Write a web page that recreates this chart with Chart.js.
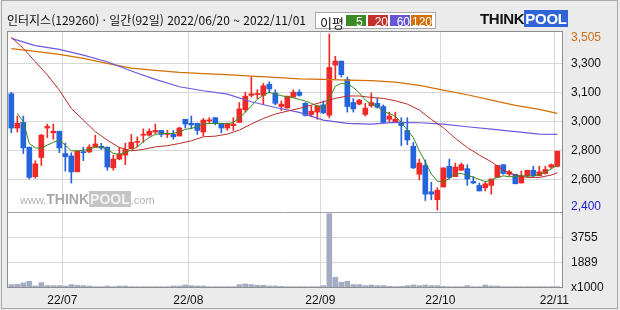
<!DOCTYPE html>
<html lang="ko">
<head>
<meta charset="utf-8">
<title>인터지스 일간 차트</title>
<script src="https://cdn.jsdelivr.net/npm/chart.js@4.4.0/dist/chart.umd.min.js"></script>
<style>
  html, body { margin: 0; padding: 0; background: #ebebeb; }
  #box { position: relative; width: 620px; height: 310px; overflow: hidden; background: #ebebeb; }
  #box canvas { position: absolute; left: 0; top: 0; }
  #frame { position: absolute; left: 1px; top: 0; width: 617px; height: 309px; box-sizing: border-box; border: 1px solid #a8a8a8; pointer-events: none; }
  #title { position: absolute; left: 7px; top: 12px; font: 12px "Noto Sans CJK KR", sans-serif; line-height: 16px; color: #111; white-space: nowrap; }
  #legend { position: absolute; left: 315px; top: 12px; width: 121px; height: 17px; box-sizing: border-box; border: 1px solid #a8a8a8; background: #fff; }
  #legend span { position: absolute; top: 2px; height: 11px; line-height: 11px; font: 12px "Liberation Sans", sans-serif; color: #fff; text-align: right; }
  #legend .lbl { left: 4px; top: 0; height: 15px; line-height: 15px; color: #111; font: 13px "Noto Sans CJK KR", sans-serif; }
  #logo { position: absolute; left: 480px; top: 11px; font: bold 15px "Liberation Sans", sans-serif; line-height: 16px; letter-spacing: -0.3px; white-space: nowrap; }
  #logo .think { color: #111; }
  #logo .pool { color: #fff; background: #2f63d6; padding: 0 1px; }
  #mark { position: absolute; left: 20px; top: 192px; white-space: nowrap; font-family: "Liberation Sans", sans-serif; line-height: 14px; }
  #mark .s { font-size: 11px; color: #b2b2b2; }
  #mark .b { font-size: 14px; font-weight: bold; color: #a9a9a9; }
  #mark .o { font-size: 14px; font-weight: bold; color: #f2f2f2; background: #c4c4c4; padding: 0 1px; }
</style>
</head>
<body>
<div id="box">
  <canvas id="chart" width="620" height="310"></canvas>
  <div id="title">인터지스(129260) · 일간(92일) 2022/06/20 ~ 2022/11/01</div>
  <div id="legend">
    <span class="lbl">이평</span>
    <span style="left:30px;width:20px;background:#3c8a26;">5&nbsp;</span>
    <span style="left:52px;width:20px;background:#c4302a;">20</span>
    <span style="left:74px;width:20px;background:#6657d8;">60</span>
    <span style="left:95px;width:21px;background:#d4700a;">120</span>
  </div>
  <div id="logo"><span class="think">THINK</span><span class="pool">POOL</span></div>
  <div id="mark"><span class="s">www.</span><span class="b">THINK</span><span class="o">POOL</span><span class="s">.com</span></div>
  <div id="frame"></div>
</div>
<script>
// daily candles, 2022/06/20 ~ 2022/11/01 (92 trading days, index 0..91)
const open = [3130,2915,2950,2795,2610,2730,2915,2885,2895,2755, 2740,2640,2765,2765,2795,2800,2795,2665,2720,2745,
  2785,2825,2870,2870,2890,2900,2875,2875,2865,2970, 2945,2945,2890,2960,2980,2945,2915,2930,2950,3030,
  3120,3125,3120,3190,3135,3050,3040,3110,3140,3070, 3000,3015,3060,2995,3310,3335,3220,3075,3065,3000,
  3055,3070,3050,2970,2950,2950,2900,2800,2625,2680, 2515,2465,2545,2675,2610,2650,2660,2580,2555,2540,
  2555,2605,2685,2625,2625,2570,2615,2650,2615,2630, 2670,2675];
const high = [3140,2990,2990,2795,2710,2875,2940,2940,2895,2820, 2760,2770,2795,2810,2870,2820,2795,2745,2795,2820,
  2875,2860,2910,2910,2940,2900,2900,2900,2920,2970, 2990,2945,2975,2980,2980,2945,2945,2980,3075,3140,
  3235,3155,3195,3205,3155,3085,3115,3155,3155,3075, 3055,3055,3085,3505,3365,3335,3235,3100,3095,3070,
  3135,3100,3060,3015,3015,2980,2980,2825,2720,2715, 2575,2540,2665,2720,2695,2695,2685,2610,2570,2580,
  2595,2680,2685,2650,2625,2645,2650,2675,2675,2675, 2690,2770];
const low = [2885,2890,2755,2595,2600,2680,2855,2845,2760,2645, 2570,2640,2710,2760,2795,2780,2650,2650,2715,2685,
  2785,2795,2825,2865,2880,2860,2855,2845,2865,2915, 2910,2875,2865,2945,2935,2885,2900,2900,2950,3015,
  3110,3100,3065,3135,3060,3025,3040,3105,3115,2990, 2985,2970,3005,2980,3225,3235,3015,3015,3060,2990,
  3045,3040,2950,2955,2950,2805,2810,2660,2590,2460, 2465,2400,2545,2595,2610,2650,2555,2565,2520,2520,
  2500,2605,2625,2615,2565,2570,2610,2610,2615,2625, 2660,2670];
const close = [2915,2945,2790,2605,2690,2870,2925,2895,2790,2735, 2640,2770,2760,2795,2815,2790,2670,2720,2750,2780,
  2825,2830,2875,2895,2900,2875,2880,2860,2915,2940, 2935,2900,2965,2965,2945,2915,2945,2940,3035,3115,
  3130,3130,3180,3160,3070,3065,3115,3140,3120,2995, 3020,3055,3010,3295,3335,3250,3050,3035,3090,3040,
  3075,3045,2950,2990,2970,2930,2840,2665,2695,2500, 2500,2525,2665,2605,2670,2685,2595,2570,2520,2565,
  2595,2680,2630,2640,2565,2615,2650,2615,2640,2655, 2685,2770];
// volume, thousand shares
const volume = [250,275,375,500,150,400,175,175,175,150, 250,200,175,150,100,100,150,100,150,150,
  100,100,100,100,100,100,100,150,150,225, 175,150,150,100,100,100,100,100,250,300,
  250,200,200,150,150,125,100,100,100,100, 100,100,170,5505,800,425,500,250,250,175,
  225,175,175,125,100,125,175,225,175,225, 175,175,125,100,100,100,175,100,100,225,
  150,150,100,100,100,100,100,100,100,100, 100,100];

// moving averages
const ma5Idx = [1,2,3,4,5,6,7,8,9,10,11,12,13,14,15,16,17,18,19,20,21,22,23,24,25,26,27,28,29,30,
  31,32,33,34,35,36,37,38,39,40,41,42,43,44,45,46,47,48,49,50,51,52,53,54,55,56,57,58,59,60,
  61,62,63,64,65,66,67,68,69,70,71,72,73,74,75,76,77,78,79,80,81,82,83,84,85,86,87,88,89,90,91];
const ma5 = [3007,2954,2818,2791,2787,2808,2825,2839,2808,2772, 2772,2775,2781,2795,2797,2781,2756,2751,2762,2777,
  2797,2829,2856,2875,2881,2881,2881,2892,2906,2913, 2923,2940,2944,2944,2944,2942,2950,2980,3013,3053,
  3095,3122,3139,3128,3118,3111,3105,3095,3084,3070, 3053,3038,3100,3178,3195,3191,3170,3135,3090,3065,
  3053,3017,3007,2990,2948,2902,2856,2772,2703,2626, 2582,2576,2599,2626,2630,2617,2607,2592,2578,2588,
  2605,2615,2609,2611,2615,2613,2615,2622,2638,2659, 2682];
const ma20Idx = [0,2,4,6,8,10,12,14,16,18,20,22,24,26,28,30,32,34,36,38,40,42,44,46,48,50,
  52,54,56,58,60,62,64,66,68,70,72,74,76,78,80,82,84,86,88,90,91];
const ma20 = [3484,3415,3331,3248,3153,3038,2965,2892,2839,2793,2772,2781,2797,2804,2818,2835,2860,2864,2877,2902,
  2940,2975,3003,3021,3038,3059,3080,3101,3116,3116,3107,3101,3086,3065,3028,2969,2917,2850,2793,2745,
  2703,2651,2620,2605,2605,2620,2634];
const maLongIdx = [0,4,8,12,16,20,24,28,32,36,40,44,48,52,56,60,64,68,72,76,80,84,88,91];
const ma60 = [3478,3432,3409,3373,3331,3273,3220,3174,3149,3128,3080,3044,3013,2965,2944,2940,2950,2948,2940,2923,2908,2892,2877,2875];
const ma120 = [3413,3396,3377,3352,3321,3291,3277,3264,3256,3250,3241,3233,3224,3220,3216,3212,3203,3183,3153,3124,3090,3057,3032,3007];

// axes
const monthTicks = [8.5, 29.5, 51.5, 71.5, 90.5];
const monthLabels = ['22/07', '22/08', '22/09', '22/10', '22/11'];
const priceTicks = [2420, 2591, 2774, 2956, 3139, 3321, 3480];
const priceLabels = ['2,400', '2,600', '2,800', '3,000', '3,100', '3,300', '3,505'];
const volTicks = [0, 1889, 3755, 5633];
const volLabels = ['x1000', '1889', '3755', ''];

const UP = '#ef2a26', DOWN = '#2464dc';
const GRID = '#d7d7d7';
const candleColor = ctx => close[ctx.dataIndex] >= open[ctx.dataIndex] ? UP : DOWN;
const pts = (idx, vals) => idx.map((x, k) => ({ x: x, y: vals[k] }));
const tickFont = { family: 'Liberation Sans', size: 12 };

const framePlugin = {
  id: 'framePlugin',
  beforeDraw(chart) {
    const { ctx, chartArea: a } = chart;
    ctx.save();
    ctx.fillStyle = '#fff';
    ctx.fillRect(a.left, a.top, a.right - a.left, a.bottom - a.top);
    ctx.restore();
  },
  afterDraw(chart) {
    const { ctx, chartArea: a } = chart;
    const sep = chart.scales.yv.top;
    ctx.save();
    ctx.lineWidth = 1;
    ctx.strokeStyle = '#a2a2a2';
    ctx.beginPath();
    ctx.moveTo(a.left, sep + 0.5); ctx.lineTo(a.right, sep + 0.5);
    ctx.stroke();
    ctx.strokeStyle = '#8e8e8e';
    ctx.beginPath();
    ctx.moveTo(a.left + 0.5, a.top); ctx.lineTo(a.left + 0.5, a.bottom);
    ctx.moveTo(a.left, a.top + 0.5); ctx.lineTo(a.right + 1, a.top + 0.5);
    ctx.moveTo(a.right + 0.5, a.top); ctx.lineTo(a.right + 0.5, a.bottom);
    ctx.moveTo(a.left, a.bottom - 0.5); ctx.lineTo(a.right + 1, a.bottom - 0.5);
    ctx.stroke();
    ctx.restore();
  }
};

new Chart(document.getElementById('chart').getContext('2d'), {
  type: 'bar',
  data: {
    datasets: [
      { type: 'line', data: pts(ma5Idx, ma5), borderColor: '#3b8a1f', borderWidth: 1, pointRadius: 0, order: 1 },
      { type: 'line', data: pts(ma20Idx, ma20), borderColor: '#bb2d28', borderWidth: 1, pointRadius: 0, order: 2 },
      { type: 'line', data: pts(maLongIdx, ma60), borderColor: '#6a5ae0', borderWidth: 1.2, pointRadius: 0, order: 3 },
      { type: 'line', data: pts(maLongIdx, ma120), borderColor: '#d46f00', borderWidth: 1.2, pointRadius: 0, order: 4 },
      { data: open.map((o, i) => ({ x: i, y: [o, close[i]] })), backgroundColor: candleColor,
        barThickness: 5, grouped: false, minBarLength: 1, order: 5 },
      { data: low.map((l, i) => ({ x: i, y: [l, high[i]] })), backgroundColor: candleColor,
        barThickness: 1, grouped: false, order: 6 },
      { data: volume.map((v, i) => ({ x: i, y: v })), yAxisID: 'yv', backgroundColor: '#a4acc4',
        barThickness: 5, grouped: false, order: 7 }
    ]
  },
  options: {
    responsive: false,
    animation: false,
    events: [],
    layout: { padding: { left: 7, top: 31, right: 0, bottom: 0 } },
    plugins: { legend: { display: false }, tooltip: { enabled: false } },
    scales: {
      x: {
        type: 'linear', min: -0.72, max: 91.78, offset: false,
        afterBuildTicks: s => { s.ticks = monthTicks.map(v => ({ value: v })); },
        afterFit: s => { s.height = 22; },
        ticks: { callback: (v, i) => monthLabels[i], color: '#111', font: tickFont, padding: 5, maxRotation: 0, autoSkip: false },
        grid: { color: GRID, drawTicks: false, offset: false },
        border: { display: false }
      },
      y: {
        type: 'linear', position: 'right', stack: 'panes', stackWeight: 181, min: 2388, max: 3524,
        afterBuildTicks: s => { s.ticks = priceTicks.map(v => ({ value: v })); },
        afterFit: s => { s.width = 58; },
        ticks: {
          callback: (v, i) => priceLabels[i], font: tickFont, padding: 9, autoSkip: false,
          color: ctx => ctx.index === 0 ? '#1b1bd0' : (ctx.index === priceTicks.length - 1 ? '#cf6b12' : '#111')
        },
        grid: { color: ctx => (ctx.index === 0 || ctx.index === priceTicks.length - 1) ? 'rgba(0,0,0,0)' : GRID, drawTicks: false },
        border: { display: false }
      },
      yv: {
        type: 'linear', position: 'right', stack: 'panes', stackWeight: 76, min: 0, max: 5633,
        afterBuildTicks: s => { s.ticks = volTicks.map(v => ({ value: v })); },
        afterFit: s => { s.width = 58; },
        ticks: { callback: (v, i) => volLabels[i], font: tickFont, padding: 9, color: '#111', autoSkip: false },
        grid: { color: ctx => (ctx.index === 0 || ctx.index === volTicks.length - 1) ? 'rgba(0,0,0,0)' : GRID, drawTicks: false },
        border: { display: false }
      }
    }
  },
  plugins: [framePlugin]
});
</script>
</body>
</html>
